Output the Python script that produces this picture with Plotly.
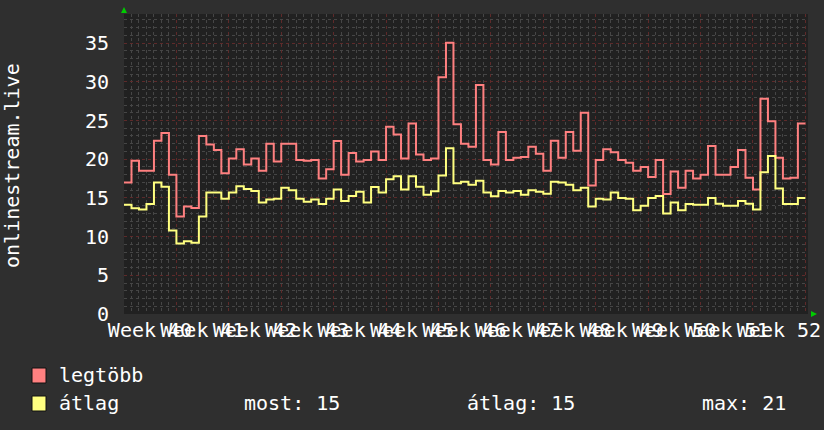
import plotly.graph_objects as go

# daily values, 91 days (week 40 .. week 52)
legtobb = [17.0, 19.8, 18.5, 18.5, 22.4, 23.4, 18.0, 12.6, 13.9, 13.7,
           23.0, 21.9, 21.2, 18.2, 20.1, 21.3, 19.3, 20.1, 18.5, 22.0,
           19.7, 22.0, 22.0, 19.9, 19.8, 19.9, 17.5, 18.7, 22.35, 18.0,
           20.8, 19.7, 19.9, 21.0, 19.9, 24.2, 23.2, 20.1, 24.6, 20.6,
           19.9, 20.1, 30.6, 35.05, 24.5, 22.0, 21.6, 29.6, 19.9, 19.3,
           23.5, 19.9, 20.2, 20.3, 21.6, 20.7, 18.5, 22.4, 20.2, 23.5,
           21.1, 26.0, 16.6, 19.9, 21.3, 20.9, 19.9, 19.55, 18.5, 19.0,
           17.7, 19.9, 15.5, 18.4, 16.3, 18.5, 17.5, 18.0, 21.7, 18.0,
           18.0, 19.0, 21.2, 17.6, 16.1, 27.8, 24.9, 20.2, 17.5, 17.6,
           24.6]
atlag = [14.1, 13.65, 13.5, 14.2, 17.0, 16.45, 10.8, 9.1, 9.4, 9.2,
         12.6, 15.7, 15.7, 14.9, 15.7, 16.5, 16.15, 15.9, 14.4, 14.8,
         14.9, 16.3, 16.0, 14.9, 14.5, 14.8, 14.2, 14.9, 16.1, 14.6,
         15.25, 15.8, 14.4, 16.4, 15.7, 17.4, 17.8, 16.1, 17.8, 16.45,
         15.4, 15.85, 17.9, 21.4, 16.9, 17.1, 16.7, 17.2, 15.7, 15.2,
         15.9, 15.7, 15.9, 15.4, 16.0, 15.8, 15.55, 17.1, 17.0, 16.7,
         16.0, 16.3, 13.9, 14.9, 14.8, 15.7, 15.0, 14.9, 13.4, 14.0,
         15.0, 15.25, 13.0, 14.4, 13.4, 14.2, 14.1, 14.1, 15.0, 14.25,
         14.0, 14.0, 14.6, 14.25, 13.5, 18.3, 20.4, 16.2, 14.2, 14.2,
         15.0]
week_labels = ["Week 40", "Week 41", "Week 42", "Week 43", "Week 44", "Week 45",
               "Week 46", "Week 47", "Week 48", "Week 49", "Week 50", "Week 51",
               "Week 52"]
y_ticks = [0, 5, 10, 15, 20, 25, 30, 35]
legend_names = ["legtöbb", "átlag"]
stats = ["most: 15", "átlag: 15", "max: 21"]
y_title = "onlinestream.live"

RED = "#ff8080"
YEL = "#ffff80"
FONT = "DejaVu Sans Mono"
BG = "#2f2f2f"
PLOT_BG = "#212121"

W, H = 824, 430
L, R, T, B = 124, 16, 14, 116
PW, PH = W - L - R, H - T - B


def px(x):
    return (x - L) / PW


def py(y):
    return (H - B - y) / PH


days = list(range(len(legtobb) + 1))
fig = go.Figure()
for vals, col in [(legtobb, RED), (atlag, YEL)]:
    fig.add_trace(go.Scatter(x=days, y=vals + [vals[-1]], mode="lines",
                             line=dict(color=col, width=2, shape="hv"),
                             hoverinfo="skip", showlegend=False))

week_pos = [7 * i for i in range(len(week_labels) + 1)]
fig.update_layout(
    width=W, height=H, margin=dict(l=L, r=R, t=T, b=B, autoexpand=False),
    paper_bgcolor=BG, plot_bgcolor=PLOT_BG,
    font=dict(family=FONT, size=20, color="#ffffff"),
    xaxis=dict(range=[0, 91.35], tickmode="array", tickvals=week_pos,
               ticktext=week_labels + [""], tickangle=0, automargin=False,
               ticklabelshift=26, ticklabelstandoff=2,
               showgrid=True, gridcolor="#5e2a2a", griddash="dot", gridwidth=1,
               minor=dict(dtick=1, tick0=0, showgrid=True, gridcolor="#464646",
                          griddash="dot", gridwidth=1),
               zeroline=False, showline=False, ticks=""),
    yaxis=dict(range=[0, 38.76], tickmode="array", tickvals=y_ticks,
               ticklabelstandoff=14, automargin=False,
               showgrid=True, gridcolor="#5e2a2a", griddash="dot", gridwidth=1,
               minor=dict(dtick=1, tick0=0, showgrid=True, gridcolor="#464646",
                          griddash="dot", gridwidth=1),
               zeroline=False, showline=False, ticks=""),
)

# y title
fig.add_annotation(text=y_title, xref="paper", yref="paper", x=px(12), y=py(166),
                   xanchor="center", yanchor="middle", textangle=-90,
                   showarrow=False, font=dict(family=FONT, size=20, color="#ffffff"))

# axis arrows
fig.add_shape(type="path", xref="paper", yref="paper", xsizemode="pixel",
              ysizemode="pixel", xanchor=0, yanchor=1,
              path="M -3,1 L 3,1 L 0,7 Z", fillcolor="#00cc00", line=dict(width=0))
fig.add_shape(type="path", xref="paper", yref="paper", xsizemode="pixel",
              ysizemode="pixel", xanchor=1, yanchor=0,
              path="M 3,-3 L 3,3 L 9,0 Z", fillcolor="#00cc00", line=dict(width=0))

# legend
rows = [375, 403]
for name, col, yy in zip(legend_names, [RED, YEL], rows):
    fig.add_shape(type="rect", xref="paper", yref="paper",
                  x0=px(32), x1=px(46), y0=py(yy - 7), y1=py(yy + 8),
                  fillcolor=col, line=dict(color="#111111", width=1))
    fig.add_annotation(text=name, xref="paper", yref="paper", x=px(57), y=py(yy),
                       xanchor="left", yanchor="middle", showarrow=False,
                       font=dict(family=FONT, size=20, color="#ffffff"))
for txt, xx in zip(stats, [242, 465, 700]):
    fig.add_annotation(text=txt, xref="paper", yref="paper", x=px(xx), y=py(403),
                       xanchor="left", yanchor="middle", showarrow=False,
                       font=dict(family=FONT, size=20, color="#ffffff"))

fig.write_html("out.html", config={"displayModeBar": False},
               post_script="document.body.style.margin='0px';"
                           "document.body.style.background='%s';" % BG)
